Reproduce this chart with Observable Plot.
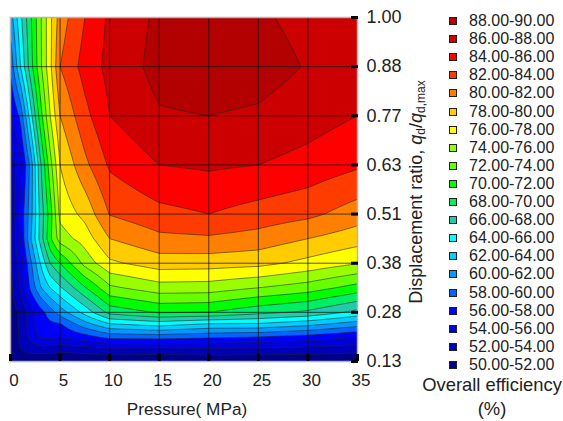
<!DOCTYPE html>
<html><head><meta charset="utf-8">
<script src="https://cdn.jsdelivr.net/npm/d3@7"></script>
<script src="https://cdn.jsdelivr.net/npm/@observablehq/plot@0.6"></script>
<style>
html,body{margin:0;padding:0;background:#fff;font-family:"Liberation Sans",Arial,sans-serif;color:#222}
#wrap{position:relative;width:563px;height:421px;overflow:hidden}
#wrap svg{position:absolute;left:0;top:0}
.row{position:absolute;left:449px;height:18px;font-size:16px;line-height:18px;white-space:nowrap}
.row i{position:absolute;left:0;top:5px;width:6px;height:6px;border:1px solid #222}
.row span{position:absolute;left:20px;top:0}
.t{position:absolute;font-size:18.4px;white-space:nowrap;text-align:center}
#yt{left:416px;top:192px;font-size:18px;transform:translate(-50%,-50%) rotate(-90deg);line-height:20px}
#yt sub{font-size:12px;vertical-align:-3px;line-height:0}
</style></head><body><div id="wrap"></div>
<script>
const pressure = [0, 1, 2, 3, 4, 5, 7.5, 10, 15, 20, 25, 30, 35];
const ratioLabels = ["0.13", "0.28", "0.38", "0.51", "0.63", "0.77", "0.88", "1.00"];
const rowPos = [7, 6, 5, 4, 3, 2.5, 2, 1.5, 1, 0.75, 0.5, 0.25, 0];
const row1_00 = [61, 65.5, 69.6, 73.6, 77.5, 81, 84, 86.4, 88.4, 88.8, 88.3, 87.4, 86];
const row0_88 = [58.5, 64, 69, 73.5, 77.5, 82, 84.8, 86.6, 88.7, 89.2, 88.9, 87.85, 86.8];
const row0_77 = [55.5, 58.5, 65, 71, 76, 80, 83.4, 86, 87.8, 88, 87.7, 86.9, 86];
const row0_63 = [53, 55, 60.5, 67.5, 73.2, 78, 81.5, 84.3, 86, 86.3, 86, 85.3, 84.3];
const row0_51 = [52.3, 56.5, 61, 66.5, 71, 76.6, 78.6, 82.1, 83.4, 84, 83.2, 82.5, 81];
const row0_45 = [52, 56, 61.6, 66.7, 71.6, 75, 76.9, 80, 81.5, 81.7, 81.2, 80, 78.9];
const row0_38 = [51.7, 55, 59.4, 64, 68, 70, 74.7, 77.6, 79, 78.9, 78.6, 77.4, 76.1];
const row0_33 = [51.5, 54.2, 58.3, 61.7, 64, 65.7, 69.8, 73.6, 75.1, 75, 74, 73, 71.2];
const row0_28 = [51.2, 52.2, 55, 57.1, 59, 60.9, 64.7, 68.7, 70.2, 70, 68.6, 67.6, 65.4];
const row0_24 = [51, 52.3, 55, 57, 57.5, 57.7, 61, 63.6, 64.6, 63.5, 63.5, 62.4, 60.7];
const row0_20 = [51, 52.2, 54.5, 56.3, 56.5, 56, 57.2, 58.7, 58.9, 58.4, 58, 57.2, 56];
const row0_17 = [50.8, 52, 53, 53, 53, 52.6, 53, 53.6, 53.3, 53.7, 53.5, 53.3, 52.8];
const row0_13 = [50.2, 50.2, 50.2, 50.2, 50.2, 50.2, 50.2, 50.2, 50.2, 50.2, 50.2, 50.2, 50.2];
const thresholds = [50, 52, 54, 56, 58, 60, 62, 64, 66, 68, 70, 72, 74, 76, 78, 80, 82, 84, 86, 88];
const bandColors = ["#000088", "#0000bb", "#0000dd", "#0000ff", "#0066ff", "#0099ff", "#00ccff", "#00ffff", "#22ccaa", "#00ee66",
  "#00ff00", "#66ff00", "#99ff00", "#ffff00", "#ffcc00", "#ff8000", "#ff3c00", "#ff0000", "#cc0000", "#b30000"];
const xTicks = [0, 5, 10, 15, 20, 25, 30, 35];
const yTicks = [0, 1, 2, 3, 4, 5, 6, 7];

const grid = [row1_00, row0_88, row0_77, row0_63, row0_51, row0_45, row0_38, row0_33, row0_28, row0_24, row0_20, row0_17, row0_13];
const seg = (arr, v) => {
  for (let i = 0; i < arr.length - 1; i++) if (v <= arr[i + 1]) return i;
  return arr.length - 2;
};
function efficiency(x, y) {
  const c = seg(pressure, x), tx = (x - pressure[c]) / (pressure[c + 1] - pressure[c]);
  let r = 0;
  while (r < rowPos.length - 2 && y < rowPos[r + 1]) r++;
  const ty = (rowPos[r] - y) / (rowPos[r] - rowPos[r + 1]);
  const a = grid[r][c] * (1 - tx) + grid[r][c + 1] * tx;
  const b = grid[r + 1][c] * (1 - tx) + grid[r + 1][c + 1] * tx;
  return a * (1 - ty) + b * ty;
}

const chart = Plot.plot({
  width: 563, height: 421,
  marginLeft: 10, marginRight: 206, marginTop: 17, marginBottom: 60,
  style: {fontFamily: '"Liberation Sans", Arial, sans-serif', color: "#222", background: "#fff"},
  x: {domain: [0, 35]},
  y: {domain: [0, 7]},
  color: {type: "threshold", domain: thresholds.slice(1), range: bandColors},
  marks: [
    Plot.contour({value: efficiency, x1: 0, x2: 35, y1: 0, y2: 7, pixelSize: 1, smooth: true, thresholds,
      fill: "value", stroke: "#222", strokeWidth: 0.7, strokeOpacity: 0.8}),
    Plot.ruleX(xTicks, {stroke: "#111", strokeWidth: 0.9, strokeOpacity: 0.8}),
    Plot.ruleY(yTicks, {stroke: "#111", strokeWidth: 0.9, strokeOpacity: 0.8}),
    Plot.frame({stroke: "#b4b4b4", strokeWidth: 1.5}),
    Plot.axisX({ticks: xTicks, tickSize: -7, strokeWidth: 3, stroke: "#000", tickFormat: () => "", label: null}),
    Plot.axisX({ticks: xTicks, tickSize: 0, tickPadding: 12, dx: 3.5, fontSize: 17, label: null, fill: "#222"}),
    Plot.axisY({anchor: "right", ticks: yTicks, tickSize: -7, tickPadding: 16, strokeWidth: 3, stroke: "#000", fontSize: 18,
      tickFormat: i => ratioLabels[i], label: null, fill: "#222"}),
    Plot.text(["Pressure( MPa)"], {frameAnchor: "bottom", dy: 53, dx: 3, fontSize: 17.2, fill: "#222", lineAnchor: "bottom"})
  ]
});
const wrap = document.getElementById("wrap");
wrap.appendChild(chart);

thresholds.slice().reverse().forEach((t, i) => {
  const row = document.createElement("div");
  row.className = "row";
  row.style.top = (12 + i * 18.1) + "px";
  const sw = document.createElement("i");
  sw.style.background = bandColors[thresholds.length - 1 - i];
  const lab = document.createElement("span");
  lab.textContent = t.toFixed(2) + "-" + (t + 2).toFixed(2);
  row.append(sw, lab);
  wrap.appendChild(row);
});
for (const [txt, top] of [["Overall efficiency", 374], ["(%)", 398]]) {
  const d = document.createElement("div");
  d.className = "t";
  d.textContent = txt;
  d.style.cssText = `left:492px;top:${top}px;transform:translateX(-50%);line-height:22px`;
  wrap.appendChild(d);
}
const yt = document.createElement("div");
yt.className = "t"; yt.id = "yt";
yt.innerHTML = 'Displacement ratio, <em>q</em><sub>d</sub>/<em>q</em><sub>d,max</sub>';
wrap.appendChild(yt);
</script></body></html>
